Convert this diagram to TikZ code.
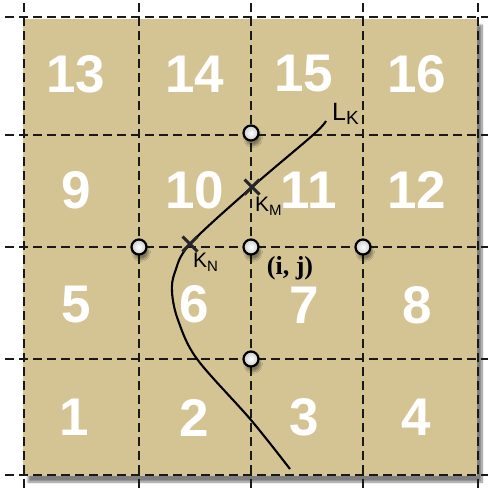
\documentclass[tikz,border=0pt]{standalone}
\usepackage{fontspec}
\setmainfont{Liberation Serif}
\setsansfont{Liberation Sans}
\usetikzlibrary{shadows.blur,shapes.misc}
\definecolor{cellfill}{RGB}{212,196,148}
\definecolor{gridcol}{RGB}{25,25,25}
\tikzset{
  gridline/.style={draw=gridcol, line width=1.4pt, dash pattern=on 9pt off 5pt},
  num/.style={text=white, font=\sffamily\bfseries\fontsize{53}{53}\selectfont, inner sep=0pt},
  probe/.style={circle, draw=black, line width=2.2pt, minimum size=15pt, inner sep=0pt,
    shading=radial, inner color=white, outer color=gray!40,
    blur shadow={shadow xshift=2pt, shadow yshift=-5pt, shadow blur steps=6, shadow opacity=40}},
  crossmark/.style={cross out, draw=black!85, line width=3pt, minimum size=12pt, inner sep=0pt},
  lbl/.style={font=\sffamily, text=black, inner sep=0pt, anchor=west},
}
\begin{document}
\begin{tikzpicture}[x=1pt,y=-1pt]
\useasboundingbox (0,0) rectangle (488,491);
% board
\fill[cellfill, blur shadow={shadow xshift=5pt, shadow yshift=-6pt, shadow blur steps=12, shadow opacity=50}] (23,19) rectangle (477,476);
% grid
\foreach \x in {24,139,251,363,478} \draw[gridline] (\x,3) -- (\x,491);
\foreach \y in {17,135,247,359,475} \draw[gridline] (5,\y) -- (488,\y);
% cell numbers
\node[num] (n13) at (76,74) {13};
\node[num] (n14) at (195,74) {14};
\node[num] (n15) at (304,74) {15};
\node[num] (n16) at (417,74) {16};
\node[num] (n9) at (76,190) {9};
\node[num] (n10) at (195,190) {10};
\node[num] (n11) at (309,190) {11};
\node[num] (n12) at (417,190) {12};
\node[num] (n5) at (76,305) {5};
\node[num] (n6) at (194,304) {6};
\node[num] (n7) at (304,305) {7};
\node[num] (n8) at (417,305) {8};
\node[num] (n1) at (74,417) {1};
\node[num] (n2) at (194,418) {2};
\node[num] (n3) at (304,417) {3};
\node[num] (n4) at (416,417) {4};
% curve L_K
\coordinate (kmc) at (252,187);
\coordinate (knc) at (190,244);
\draw[line width=2.1pt, black] plot[smooth, tension=0.55] coordinates
  {(326,121) (313,135) (kmc) (knc) (175,272) (172,292) (178,320) (197,359) (251,420) (290,469)};
% crossings
\node[crossmark] (km) at (kmc) {};
\node[crossmark] (kn) at (knc) {};
% probe points
\node[probe] (pt) at (251,133) {};
\node[probe] (pl) at (139,247) {};
\node[probe] (pc) at (251,247) {};
\node[probe] (pr) at (363,247) {};
\node[probe] (pb) at (251,359) {};
% labels
\node[lbl] (lk) at (332,114) {\fontsize{25}{25}\selectfont L\raisebox{-4pt}{\fontsize{19}{19}\selectfont K}};
\node[lbl] (kml) at (255,206) {\fontsize{21}{21}\selectfont K\raisebox{-4pt}{\fontsize{15}{15}\selectfont M}};
\node[lbl] (knl) at (193,262) {\fontsize{21}{21}\selectfont K\raisebox{-4pt}{\fontsize{15}{15}\selectfont N}};
\node[font=\bfseries\fontsize{26}{26}\selectfont, inner sep=0pt] (ij) at (290,268) {(i, j)};
\end{tikzpicture}
\end{document}
